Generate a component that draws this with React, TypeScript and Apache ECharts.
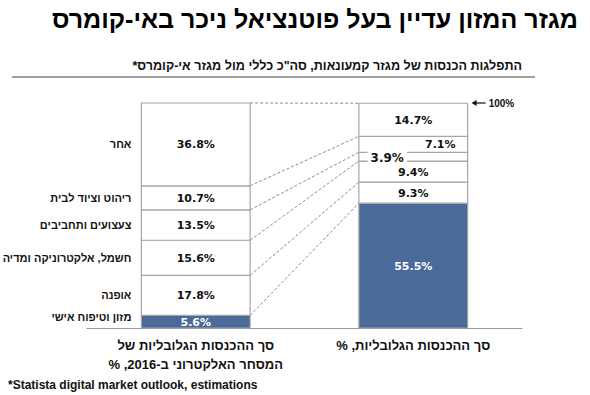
import React, { useEffect, useRef } from "react";
import * as echarts from "echarts";

const categories = [
  "מזון וטיפוח אישי",
  "אופנה",
  "חשמל, אלקטרוניקה ומדיה",
  "צעצועים ותחביבים",
  "ריהוט וציוד לבית",
  "אחר",
];
const ecommerceShare = [5.6, 17.8, 15.6, 13.5, 10.7, 36.8];
const totalShare = [55.5, 9.3, 9.4, 3.9, 7.1, 14.7];
const columns = [
  "סך ההכנסות הגלובליות של\nהמסחר האלקטרוני ב-2016, %",
  "סך ההכנסות הגלובליות, %",
];
const titleText = "מגזר המזון עדיין בעל פוטנציאל ניכר באי-קומרס";
const subtitleText = "התפלגות הכנסות של מגזר קמעונאות, סה\"כ כללי מול מגזר אי-קומרס*";
const footnoteText = "*Statista digital market outlook, estimations";
const totalLabel = "100%";

const HEB = "Arial, 'Liberation Sans', 'DejaVu Sans', sans-serif";
const NUM = "'DejaVu Sans', Verdana, sans-serif";
const BLUE = "#4a6a9a";
const BORDER = "#a6a6a6";

const rtl = (s: string) =>
  s
    .split("\n")
    .map((l) => "\u200F" + l + "\u200F")
    .join("\n");

function cumulative(arr: number[]) {
  const out: number[] = [];
  let s = 0;
  arr.forEach((v) => {
    s += v;
    out.push(s);
  });
  return out;
}

export default function App() {
  const ref = useRef<HTMLDivElement>(null);
  useEffect(() => {
    if (!ref.current) return;
    const chart = echarts.init(ref.current, null, { renderer: "svg" });
    const cumL = cumulative(ecommerceShare);
    const cumR = cumulative(totalShare);

    const segRows: number[][] = [];
    [ecommerceShare, totalShare].forEach((arr, col) => {
      const cum = col === 0 ? cumL : cumR;
      arr.forEach((v, i) => {
        segRows.push([col, cum[i] - v, cum[i], i, v]);
      });
    });

    const segments = {
      type: "custom",
      silent: true,
      z: 3,
      data: segRows,
      encode: { x: 0, y: [1, 2] },
      renderItem: (params: any, api: any) => {
        const col = api.value(0);
        const start = api.value(1);
        const end = api.value(2);
        const cat = api.value(3);
        const val = api.value(4);
        const p0 = api.coord([col, start]);
        const p1 = api.coord([col, end]);
        const w = api.size([1, 0])[0] * 0.5;
        const x0 = p0[0] - w / 2;
        const isFood = cat === 0;
        let dx = 0;
        let dy = 0.5;
        let fs = 11;
        let bg: any = null;
        if (col === 1 && cat === 4) dx = 27;
        if (col === 1 && cat === 3) {
          dx = -26;
          dy = 1;
          fs = 12;
          bg = "#fff";
        }
        const text: any = {
          type: "text",
          x: p0[0] + dx,
          y: (p0[1] + p1[1]) / 2 + dy,
          z2: 5,
          style: {
            text: val.toFixed(1) + "%",
            align: "center",
            verticalAlign: "middle",
            fill: isFood ? "#fff" : "#111",
            font: `bold ${fs}px ${NUM}`,
          },
        };
        if (bg) {
          text.style.backgroundColor = bg;
          text.style.padding = [1, 3];
        }
        return {
          type: "group",
          children: [
            {
              type: "rect",
              shape: { x: x0, y: p1[1], width: w, height: p0[1] - p1[1] },
              style: { fill: isFood ? BLUE : "#fff", stroke: BORDER, lineWidth: 1.2 },
            },
            text,
          ],
        };
      },
    };

    const connectors = {
      type: "custom",
      silent: true,
      z: 1,
      data: categories.map((_, i) => [0, cumL[i], cumR[i]]),
      encode: { x: 0, y: 1 },
      renderItem: (params: any, api: any) => {
        const p1 = api.coord([0, api.value(1)]);
        const p2 = api.coord([1, api.value(2)]);
        const half = api.size([1, 0])[0] * 0.25;
        return {
          type: "line",
          shape: { x1: p1[0] + half, y1: p1[1], x2: p2[0] - half, y2: p2[1] },
          style: { stroke: "#8c8c8c", lineWidth: 1, lineDash: [3, 2] },
        };
      },
    };

    const names = {
      type: "custom",
      silent: true,
      data: categories.map((_, i) => [0, cumL[i] - ecommerceShare[i] / 2, i]),
      encode: { x: 0, y: 1 },
      renderItem: (params: any, api: any) => {
        const p = api.coord([0, api.value(1)]);
        const half = api.size([1, 0])[0] * 0.25;
        const idx = api.value(2);
        return {
          type: "text",
          x: p[0] - half - 10,
          y: p[1] + (idx === 0 ? -5 : 0),
          style: {
            text: rtl(categories[idx]),
            align: "right",
            verticalAlign: "middle",
            fill: "#111",
            font: `bold 11px ${HEB}`,
          },
        };
      },
    };

    const totalMarker = {
      type: "custom",
      silent: true,
      data: [[1, 100]],
      encode: { x: 0, y: 1 },
      renderItem: (params: any, api: any) => {
        const p = api.coord([1, api.value(1)]);
        const half = api.size([1, 0])[0] * 0.25;
        const x = p[0] + half + 4;
        const y = p[1];
        return {
          type: "group",
          children: [
            {
              type: "line",
              shape: { x1: x + 3, y1: y, x2: x + 14, y2: y },
              style: { stroke: "#111", lineWidth: 1.2 },
            },
            {
              type: "polygon",
              shape: { points: [[x, y], [x + 5, y - 3], [x + 5, y + 3]] },
              style: { fill: "#111" },
            },
            {
              type: "text",
              x: x + 17,
              y,
              style: {
                text: totalLabel,
                align: "left",
                verticalAlign: "middle",
                fill: "#111",
                font: `bold 10px Arial, 'Liberation Sans', sans-serif`,
              },
            },
          ],
        };
      },
    };

    chart.setOption({
      animation: false,
      grid: { left: 87, right: 68, top: 103, bottom: 67 },
      xAxis: {
        type: "category",
        data: columns,
        axisLine: { lineStyle: { color: "#999", width: 1.2 } },
        axisTick: { show: false },
        axisLabel: {
          interval: 0,
          formatter: (v: string) => rtl(v),
          color: "#111",
          fontFamily: HEB,
          fontWeight: "bold",
          fontSize: 13,
          lineHeight: 19,
          margin: 8,
        },
      },
      yAxis: {
        type: "value",
        min: 0,
        max: 100,
        show: false,
        splitLine: { show: false },
      },
      series: [connectors, segments, names, totalMarker],
      graphic: [
        {
          type: "text",
          x: 578,
          y: 19,
          style: {
            text: rtl(titleText),
            align: "right",
            verticalAlign: "middle",
            fill: "#000",
            font: `bold 25px ${HEB}`,
          },
        },
        {
          type: "text",
          x: 522,
          y: 66,
          style: {
            text: rtl(subtitleText),
            align: "right",
            verticalAlign: "middle",
            fill: "#111",
            font: `bold 12.6px ${HEB}`,
          },
        },
        {
          type: "line",
          shape: { x1: 12, y1: 77, x2: 535, y2: 77 },
          style: { stroke: "#808080", lineWidth: 1.5 },
        },
        {
          type: "text",
          x: 8,
          y: 385,
          style: {
            text: footnoteText,
            align: "left",
            verticalAlign: "middle",
            fill: "#111",
            font: `bold 12px Arial, 'Liberation Sans', sans-serif`,
          },
        },
      ],
    });
    return () => chart.dispose();
  }, []);
  return (
    <div
      ref={ref}
      style={{ position: "fixed", left: 0, top: 0, width: 590, height: 395, background: "#fff" }}
    />
  );
}
